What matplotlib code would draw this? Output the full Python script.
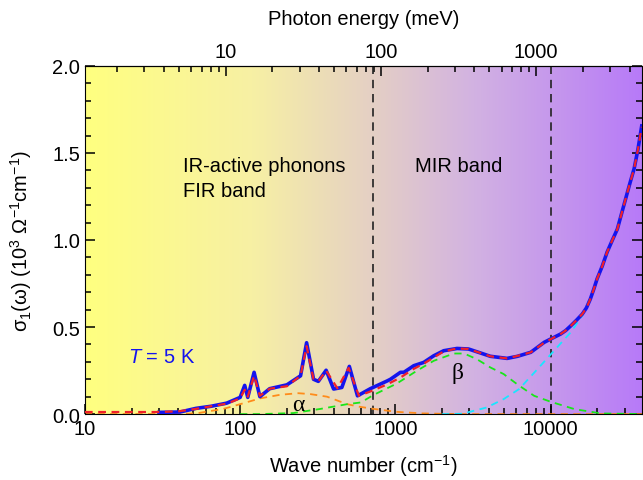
import numpy as np
import matplotlib
matplotlib.use("Agg")
import matplotlib.pyplot as plt
from matplotlib.colors import LinearSegmentedColormap
from matplotlib.ticker import LogLocator, FixedLocator, FuncFormatter, NullFormatter, MultipleLocator

plt.rcParams['font.family'] = ['Liberation Sans', 'DejaVu Sans']
plt.rcParams['mathtext.fontset'] = 'custom'
plt.rcParams['mathtext.rm'] = 'Liberation Sans'
plt.rcParams['mathtext.it'] = 'Liberation Sans:italic'
plt.rcParams['mathtext.default'] = 'regular'

# --- data ---
# measured sigma_1 at 5 K
wn_data = [30, 41, 52, 65, 82, 100, 107, 112, 123, 134, 155, 200, 245, 268, 297, 319,
           358, 400, 452, 505, 570, 690, 883, 929, 1078, 1134, 1314, 1523, 1766, 2048,
           2494, 2955, 3427, 4088, 5240, 6120, 7450, 9080, 10000, 11600, 12500, 13480,
           14700, 16000, 17000, 18000, 19000, 19900, 21500, 23100, 25000, 26900, 28600,
           30400, 32500, 34500, 36500, 38600]
sig_data = [0.01, 0.012, 0.033, 0.045, 0.063, 0.096, 0.165, 0.096, 0.24, 0.10, 0.146, 0.168,
            0.22, 0.41, 0.20, 0.188, 0.252, 0.144, 0.153, 0.274, 0.105, 0.146, 0.19, 0.20,
            0.24, 0.24, 0.278, 0.297, 0.335, 0.364, 0.377, 0.374, 0.355, 0.332, 0.32, 0.332,
            0.355, 0.412, 0.431, 0.46, 0.48, 0.507, 0.54, 0.575, 0.61, 0.66, 0.72, 0.776,
            0.85, 0.93, 1.0, 1.063, 1.15, 1.236, 1.33, 1.41, 1.52, 1.655]

# total Drude-Lorentz fit
wn_fit = [10, 20, 30, 40, 52, 65, 82, 100, 107, 112, 123, 134, 155, 200, 245, 268, 297,
          320, 358, 423, 500, 582, 690, 883, 1078, 1314, 1523, 1766, 2048, 2494, 2955,
          3427, 4088, 5240, 6438, 7450, 9080, 10000, 11600, 12500, 13480, 14700, 16000,
          17000, 18000, 19000, 19900, 21500, 23100, 25000, 26900, 28600, 30400, 32500,
          34500, 36500, 38600]
sig_fit = [0.012, 0.012, 0.012, 0.016, 0.03, 0.045, 0.06, 0.09, 0.14, 0.10, 0.22, 0.105,
           0.146, 0.16, 0.22, 0.39, 0.20, 0.19, 0.25, 0.148, 0.265, 0.105, 0.13, 0.17,
           0.21, 0.26, 0.29, 0.325, 0.36, 0.377, 0.374, 0.355, 0.332, 0.32, 0.339, 0.355,
           0.41, 0.43, 0.46, 0.48, 0.507, 0.54, 0.575, 0.61, 0.66, 0.72, 0.776, 0.85,
           0.93, 1.0, 1.063, 1.15, 1.236, 1.33, 1.41, 1.52, 1.65]

# alpha band (orange)
wn_alpha = [10, 30, 52, 78, 100, 134, 181, 237, 283, 363, 489, 580, 723, 1019, 1500, 2500, 40000]
sig_alpha = [0.0, 0.0, 0.004, 0.03, 0.057, 0.09, 0.111, 0.12, 0.115, 0.10, 0.057, 0.043,
             0.03, 0.013, 0.004, 0.0, 0.0]

# beta band (green)
wn_beta = [100, 134, 220, 330, 489, 600, 723, 1019, 1376, 1766, 2380, 2770, 3340, 4090,
           4980, 6120, 7830, 10000, 14200, 21000, 40000]
sig_beta = [0.0, 0.0, 0.006, 0.03, 0.057, 0.067, 0.11, 0.175, 0.249, 0.306, 0.348, 0.348,
            0.316, 0.268, 0.23, 0.17, 0.105, 0.071, 0.029, 0.004, 0.0]

# high-energy interband (cyan)
wn_inter = [2000, 2700, 3870, 4980, 6270, 8240, 10300, 13480, 16000, 18960, 22100, 25700,
            30400, 33000, 35600, 38600]
sig_inter = [0.0, 0.002, 0.038, 0.086, 0.144, 0.259, 0.355, 0.47, 0.565, 0.718, 0.872,
             1.025, 1.236, 1.36, 1.48, 1.655]

band_edges = [720, 10000]
MEV_PER_CM = 1 / 8.0655

fig = plt.figure(figsize=(6.43, 4.81), dpi=100)
ax = fig.add_axes([0.132, 0.137, 0.866, 0.724])

# background gradient yellow -> purple
bg = LinearSegmentedColormap.from_list(
    "bg", [(0.0, "#ffff80"), (0.3, "#f7f0a4"), (0.5, "#e6d2c2"),
           (0.7, "#d2b2e2"), (1.0, "#b77af8")])
ax.imshow(np.linspace(0, 1, 256)[None, :], cmap=bg, aspect="auto",
          extent=[0, 1, 0, 1], transform=ax.transAxes, zorder=0)

ax.plot(wn_data, sig_data, color="#1414ee", lw=2.6, zorder=3)
ax.plot(wn_fit, sig_fit, color="#f0202a", lw=1.6, dashes=(3.5, 2.5), zorder=4)
ax.plot(wn_alpha, sig_alpha, color="#ff8c1a", lw=1.3, dashes=(4, 3), zorder=2)
ax.plot(wn_beta, sig_beta, color="#19e619", lw=1.3, dashes=(4, 3), zorder=2)
ax.plot(wn_inter, sig_inter, color="#19e6ff", lw=1.3, dashes=(4, 3), zorder=2)
for e in band_edges:
    ax.axvline(e, color="#222222", lw=1.2, dashes=(5, 3.5), zorder=1)

ax.set_xscale("log")
ax.set_xlim(10, 38600)
ax.set_ylim(0, 2.0)

plain = FuncFormatter(lambda v, p: f"{v:g}")
ax.xaxis.set_major_locator(LogLocator(base=10))
ax.xaxis.set_major_formatter(plain)
ax.xaxis.set_minor_locator(LogLocator(base=10, subs=np.arange(2, 10)))
ax.xaxis.set_minor_formatter(NullFormatter())
ax.yaxis.set_major_locator(MultipleLocator(0.5))
ax.yaxis.set_minor_locator(MultipleLocator(0.1))
ax.yaxis.set_major_formatter(FuncFormatter(lambda v, p: f"{v:.1f}"))

ax.tick_params(which="both", direction="in", labelsize=14.5, top=False, right=True)
ax.tick_params(which="major", length=7, width=1.1)
ax.tick_params(which="minor", length=4, width=1.1)

sec = ax.secondary_xaxis("top", functions=(lambda x: x * MEV_PER_CM, lambda e: e / MEV_PER_CM))
sec.xaxis.set_major_locator(FixedLocator([10, 100, 1000]))
sec.xaxis.set_major_formatter(plain)
sec.xaxis.set_minor_locator(LogLocator(base=10, subs=np.arange(2, 10)))
sec.xaxis.set_minor_formatter(NullFormatter())
sec.tick_params(which="both", direction="in", labelsize=14.5)
sec.tick_params(which="major", length=7, width=1.1)
sec.tick_params(which="minor", length=4, width=1.1)
sec.set_xlabel("Photon energy (meV)", fontsize=14.5, labelpad=13)

ax.set_xlabel("Wave number (cm$^{-1}$)", fontsize=14.5, labelpad=10)
ax.set_ylabel("σ$_1$(ω) (10$^3$ Ω$^{-1}$cm$^{-1}$)", fontsize=14.5, labelpad=13)

ax.text(43, 1.425, "IR-active phonons", fontsize=14.5, va="center", ha="left")
ax.text(43, 1.287, "FIR band", fontsize=14.5, va="center", ha="left")
ax.text(1345, 1.425, "MIR band", fontsize=14.5, va="center", ha="left")
ax.text(18.9, 0.33, r"$\mathit{T}$ = 5 K", color="#1414ee", fontsize=14.5, va="center", ha="left")
ax.text(237, 0.057, "α", family="Liberation Serif", fontsize=17, ha="center", va="center")
ax.text(2494, 0.24, "β", family="Liberation Serif", fontsize=17, ha="center", va="center")

fig.savefig("out.png", dpi=100)
